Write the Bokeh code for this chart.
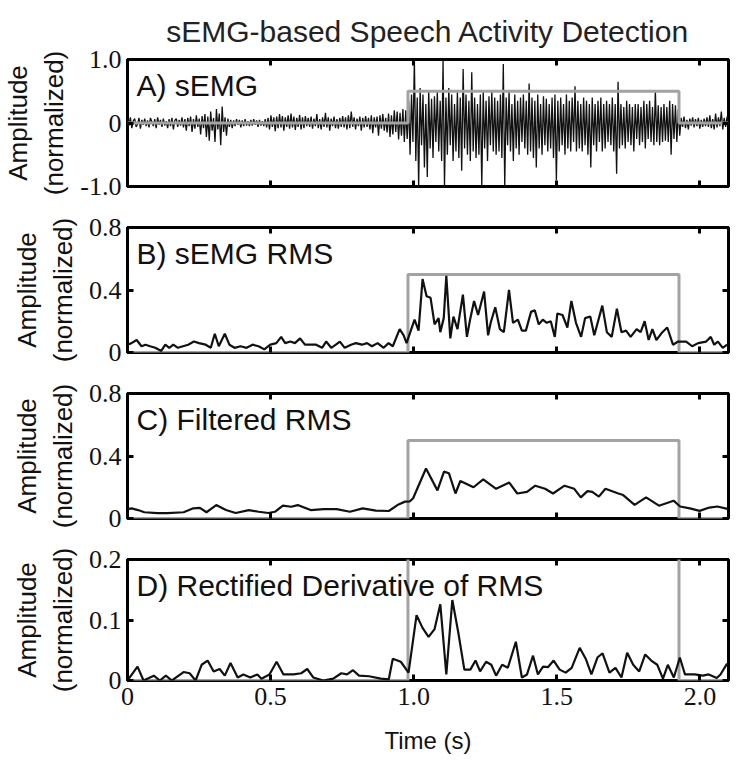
from bokeh.plotting import figure
from bokeh.layouts import column
from bokeh.models import Range1d, LinearAxis, FixedTicker, Label
from bokeh.embed import file_html
from bokeh.resources import INLINE
import numpy as np

TITLE = "sEMG-based Speech Activity Detection"
X_LABEL = "Time (s)"
Y_LABEL = "Amplitude\n(normalized)"
panel_names = ["A) sEMG", "B) sEMG RMS", "C) Filtered RMS", "D) Rectified Derivative of RMS"]

x_ticks = [0, 0.5, 1.0, 1.5, 2.0]
x_tick_labels = ["0", "0.5", "1.0", "1.5", "2.0"]

# speech activity detection window
vad_on = 0.98
vad_off = 1.927
vad_level = 0.5

# A) raw sEMG (uniform samples over 0..2.1 s)
emg_pre = [
    0.06, -0.04, 0.09, -0.08, 0.03, 0.07, -0.06, -0.02, 0.08, -0.09, 0.05, -0.03, 0.07, -0.05,
    0.04, -0.07, 0.08, 0.02, -0.05, 0.06, -0.08, 0.09, -0.03, 0.05, -0.06, 0.07, -0.04, 0.03,
    -0.08, 0.06, -0.05, 0.08, -0.10, 0.04, 0.07, -0.06, 0.05, -0.04, 0.09, -0.07, 0.06, -0.12,
    0.08, -0.05, 0.10, -0.14, 0.06, -0.09, 0.12, -0.06, 0.07, -0.18, 0.11, -0.08, 0.14, -0.22,
    0.10, -0.28, 0.18, -0.12, 0.08, -0.30, 0.22, -0.10, 0.15, -0.35, 0.26, -0.14, 0.09, -0.20,
    0.07, -0.06, 0.05, -0.08, 0.04, -0.05, 0.06, -0.03, 0.05, -0.07, 0.04, -0.05, 0.06, -0.04,
    0.03, -0.05, 0.05, -0.04, 0.06, -0.03, 0.04, -0.06, 0.05, -0.04, 0.03, -0.05, 0.06, -0.07,
    0.08, -0.10, 0.12, -0.06, 0.09, -0.13, 0.10, -0.08, 0.14, -0.07, 0.11, -0.12, 0.09, -0.06,
    0.12, -0.09, 0.15, -0.07, 0.10, -0.11, 0.08, -0.06, 0.13, -0.10, 0.09, -0.08, 0.11, -0.05,
    0.08, -0.06, 0.10, -0.09, 0.07, -0.05, 0.14, -0.08, 0.06, -0.10, 0.09, -0.06, 0.16, -0.07,
    0.09, -0.12, 0.07, -0.05, 0.10, -0.08, 0.06, -0.09, 0.08, -0.06, 0.11, -0.07, 0.09, -0.10,
    0.12, -0.08, 0.18, -0.06, 0.09, -0.10, 0.07, -0.05, 0.10, -0.12, 0.08, -0.07, 0.11, -0.06,
    0.08, -0.10, 0.12, -0.16, 0.09, -0.07, 0.10, -0.20, 0.12, -0.09, 0.14, -0.12, 0.08, -0.15,
    0.15, -0.22, 0.12, -0.18, 0.20, -0.14, 0.18, -0.26, 0.16, -0.20, 0.22, -0.30, 0.20, -0.25,
]
emg_speech = [
    0.35, -0.50, 0.45, -0.30, 1.00, -0.60, 0.40, -1.00, 0.55, -0.35, 0.45, -0.70, 0.30, -0.85, 0.50, -0.40, 0.38, -0.55, 0.42, -0.30,
    0.50, -0.45, 0.35, -0.60, 0.98, -1.00, 0.40, -0.50, 0.55, -0.35, 0.45, -0.60, 0.30, -0.45, 0.50, -0.55, 0.40, -0.75, 0.85, -0.40,
    0.45, -0.50, 0.35, -0.60, 0.80, -0.45, 0.40, -0.55, 0.30, -0.50, 0.45, -1.00, 0.50, -0.40, 0.35, -0.60, 0.42, -0.35, 0.50, -0.45,
    0.40, -0.50, 0.35, -0.45, 0.45, -0.55, 0.93, -1.00, 0.40, -0.35, 0.50, -0.45, 0.30, -0.60, 0.45, -0.40, 0.35, -0.50, 0.40, -0.30,
    0.45, -0.40, 0.35, -0.50, 0.62, -0.45, 0.40, -0.55, 0.35, -0.70, 0.45, -0.40, 0.30, -0.50, 0.42, -0.35, 0.38, -0.45, 0.30, -0.40,
    0.40, -0.55, 0.45, -0.90, 0.35, -0.45, 0.40, -0.35, 0.30, -0.50, 0.45, -0.40, 0.35, -0.45, 0.40, -0.30, 0.58, -0.45, 0.35, -0.40,
    0.30, -0.45, 0.40, -0.35, 0.35, -0.50, 0.30, -0.70, 0.40, -0.35, 0.30, -0.45, 0.35, -0.30, 0.40, -0.45, 0.30, -0.40, 0.35, -0.30,
    0.30, -0.35, 0.40, -0.45, 0.30, -0.80, 0.65, -0.40, 0.30, -0.35, 0.25, -0.40, 0.35, -0.30, 0.30, -0.35, 0.25, -0.45, 0.30, -0.25,
    0.30, -0.35, 0.25, -0.30, 0.35, -0.40, 0.30, -0.25, 0.35, -0.30, 0.25, -0.35, 0.52, -0.30, 0.28, -0.35, 0.25, -0.30, 0.30, -0.28,
    0.25, -0.30, 0.35, -0.50, 0.30, -0.25, 0.28, -0.30, 0.22, -0.20,
]
emg_post = [
    0.08, -0.06, 0.10, -0.08, 0.05, -0.10, 0.07, -0.04, 0.09, -0.07, 0.06, -0.05, 0.08, -0.09, 0.05, -0.06, 0.07,
    -0.05, 0.09, -0.06, 0.12, -0.08, 0.06, -0.10, 0.15, -0.07, 0.09, -0.05, 0.18, -0.10, 0.08, -0.06, 0.10, -0.05,
]

# B) sEMG RMS
rms_t = [0.000, 0.014, 0.032, 0.049, 0.063, 0.079, 0.097, 0.118, 0.132, 0.146,
         0.160, 0.176, 0.194, 0.212, 0.232, 0.250, 0.273, 0.291, 0.305, 0.319,
         0.340, 0.356, 0.374, 0.395, 0.416, 0.437, 0.458, 0.478, 0.499, 0.520,
         0.537, 0.551, 0.569, 0.585, 0.603, 0.620, 0.638, 0.659, 0.680, 0.694,
         0.712, 0.728, 0.742, 0.759, 0.781, 0.798, 0.819, 0.837, 0.854, 0.874,
         0.895, 0.912, 0.927, 0.951, 0.965, 0.975, 1.003, 1.017, 1.031, 1.045,
         1.059, 1.073, 1.087, 1.093, 1.105, 1.114, 1.128, 1.139, 1.153, 1.172,
         1.186, 1.197, 1.211, 1.225, 1.246, 1.260, 1.269, 1.285, 1.301, 1.315,
         1.333, 1.347, 1.364, 1.378, 1.392, 1.410, 1.423, 1.437, 1.451, 1.465,
         1.479, 1.493, 1.502, 1.520, 1.537, 1.551, 1.567, 1.585, 1.599, 1.617,
         1.631, 1.659, 1.675, 1.692, 1.710, 1.726, 1.742, 1.758, 1.779, 1.793,
         1.807, 1.821, 1.834, 1.848, 1.869, 1.886, 1.906, 1.924, 1.952, 1.973,
         1.994, 2.022, 2.038, 2.050, 2.063, 2.080, 2.095]
rms_v = [0.05, 0.06, 0.08, 0.04, 0.05, 0.04, 0.03, 0.01, 0.05, 0.03,
         0.05, 0.03, 0.04, 0.05, 0.07, 0.06, 0.05, 0.03, 0.12, 0.04,
         0.12, 0.05, 0.03, 0.04, 0.03, 0.05, 0.04, 0.02, 0.05, 0.06,
         0.10, 0.06, 0.07, 0.06, 0.09, 0.05, 0.05, 0.05, 0.03, 0.07,
         0.03, 0.05, 0.07, 0.03, 0.05, 0.06, 0.05, 0.06, 0.04, 0.06,
         0.03, 0.06, 0.04, 0.15, 0.11, 0.06, 0.21, 0.14, 0.47, 0.36,
         0.35, 0.18, 0.22, 0.13, 0.22, 0.49, 0.09, 0.23, 0.15, 0.37,
         0.10, 0.21, 0.33, 0.24, 0.39, 0.11, 0.19, 0.29, 0.15, 0.13,
         0.40, 0.19, 0.21, 0.14, 0.14, 0.26, 0.27, 0.18, 0.21, 0.19,
         0.20, 0.10, 0.25, 0.24, 0.16, 0.33, 0.19, 0.10, 0.22, 0.23,
         0.11, 0.30, 0.13, 0.10, 0.28, 0.13, 0.14, 0.10, 0.15, 0.13,
         0.20, 0.08, 0.15, 0.08, 0.13, 0.16, 0.05, 0.07, 0.07, 0.04,
         0.06, 0.07, 0.10, 0.05, 0.07, 0.03, 0.05]

# C) filtered RMS
filt_t = [0.000, 0.014, 0.037, 0.059, 0.105, 0.139, 0.196, 0.230, 0.253, 0.276,
          0.310, 0.344, 0.378, 0.424, 0.458, 0.492, 0.515, 0.543, 0.572, 0.595,
          0.640, 0.686, 0.731, 0.777, 0.822, 0.868, 0.913, 0.947, 0.970, 0.987,
          0.998, 1.043, 1.083, 1.106, 1.123, 1.146, 1.163, 1.209, 1.243, 1.288,
          1.334, 1.362, 1.396, 1.425, 1.459, 1.487, 1.527, 1.561, 1.584, 1.607,
          1.624, 1.647, 1.670, 1.715, 1.732, 1.772, 1.812, 1.857, 1.908, 1.931,
          1.965, 1.999, 2.033, 2.061, 2.100]
filt_v = [0.060, 0.065, 0.054, 0.040, 0.035, 0.035, 0.040, 0.065, 0.068, 0.040,
          0.086, 0.054, 0.035, 0.054, 0.043, 0.035, 0.043, 0.082, 0.075, 0.086,
          0.054, 0.060, 0.060, 0.043, 0.065, 0.050, 0.048, 0.090, 0.108, 0.110,
          0.130, 0.320, 0.180, 0.300, 0.290, 0.160, 0.240, 0.200, 0.250, 0.190,
          0.230, 0.160, 0.170, 0.210, 0.190, 0.160, 0.210, 0.190, 0.135, 0.175,
          0.170, 0.140, 0.190, 0.160, 0.150, 0.087, 0.135, 0.082, 0.114, 0.077,
          0.065, 0.049, 0.070, 0.077, 0.060]

# D) rectified derivative of RMS
der_t = [0.000, 0.035, 0.056, 0.092, 0.113, 0.134, 0.155, 0.196, 0.217, 0.238,
         0.259, 0.280, 0.301, 0.322, 0.340, 0.360, 0.385, 0.405, 0.429, 0.454,
         0.468, 0.496, 0.521, 0.545, 0.580, 0.607, 0.628, 0.649, 0.684, 0.719,
         0.747, 0.767, 0.788, 0.809, 0.844, 0.885, 0.913, 0.927, 0.955, 0.982,
         1.010, 1.031, 1.052, 1.073, 1.093, 1.114, 1.135, 1.156, 1.177, 1.198,
         1.216, 1.232, 1.253, 1.271, 1.288, 1.309, 1.329, 1.357, 1.378, 1.396,
         1.417, 1.434, 1.452, 1.469, 1.489, 1.510, 1.531, 1.552, 1.580, 1.601,
         1.621, 1.642, 1.660, 1.684, 1.705, 1.726, 1.746, 1.767, 1.788, 1.809,
         1.830, 1.851, 1.871, 1.888, 1.909, 1.930, 1.948, 1.982, 2.010, 2.031,
         2.059, 2.072, 2.095]
der_v = [0.000, 0.023, 0.000, 0.008, 0.000, 0.008, 0.000, 0.014, 0.012, 0.000,
         0.026, 0.033, 0.015, 0.019, 0.008, 0.029, 0.005, 0.010, 0.005, 0.010,
         0.003, 0.010, 0.031, 0.010, 0.010, 0.012, 0.019, 0.005, 0.000, 0.003,
         0.012, 0.010, 0.017, 0.008, 0.007, 0.003, 0.002, 0.036, 0.031, 0.013,
         0.108, 0.087, 0.072, 0.085, 0.126, 0.010, 0.133, 0.079, 0.018, 0.018,
         0.033, 0.015, 0.031, 0.026, 0.008, 0.026, 0.021, 0.064, 0.005, 0.010,
         0.041, 0.010, 0.023, 0.022, 0.033, 0.018, 0.013, 0.021, 0.054, 0.036,
         0.010, 0.038, 0.045, 0.013, 0.021, 0.005, 0.046, 0.026, 0.015, 0.043,
         0.033, 0.026, 0.003, 0.026, 0.005, 0.038, 0.010, 0.010, 0.008, 0.010,
         0.004, 0.010, 0.028]

y_ranges = [(-1.0, 1.0), (0.0, 0.8), (0.0, 0.8), (0.0, 0.2)]
y_ticks = [[-1.0, 0.0, 1.0], [0.0, 0.4, 0.8], [0.0, 0.4, 0.8], [0.0, 0.1, 0.2]]
y_tick_labels = [["-1.0", "0", "1.0"], ["0", "0.4", "0.8"], ["0", "0.4", "0.8"], ["0", "0.1", "0.2"]]

FONT = "Liberation Sans"
TICK_FONT = "Liberation Sans Narrow"
BLACK = "#111111"
GRAY = "#a3a3a3"

x_range = Range1d(0, 2.1)

emg = emg_pre + emg_speech + emg_post
emg_t = list(np.linspace(0, 2.1, len(emg)))
box_t = [0.0, vad_on, vad_on, vad_off, vad_off, 2.1]
box_v = [0.0, 0.0, vad_level, vad_level, 0.0, 0.0]

series = [(emg_t, emg), (rms_t, rms_v), (filt_t, filt_v), (der_t, der_v)]
heights = [206, 166, 166, 218]
tops = [57, 21, 21, 21]
bottoms = [20, 20, 20, 72]


def hidden_axis(ticks):
    return LinearAxis(ticker=FixedTicker(ticks=ticks, minor_ticks=[]),
                      major_label_text_font_size="1px", major_label_text_color=None,
                      major_label_standoff=0, axis_line_color=None,
                      major_tick_in=6, major_tick_out=0, major_tick_line_width=3,
                      major_tick_line_color="black", minor_tick_line_color=None)


figs = []
for i in range(4):
    p = figure(width=731, height=heights[i], x_range=x_range,
               y_range=Range1d(*y_ranges[i]), output_backend="svg",
               toolbar_location=None, min_border_left=118, min_border_right=3,
               min_border_top=tops[i], min_border_bottom=bottoms[i],
               background_fill_color="white", border_fill_color="white",
               x_axis_location=None, y_axis_location=None)
    p.grid.visible = False
    p.outline_line_color = "black"
    p.outline_line_width = 3

    xover = {x_ticks[k]: x_tick_labels[k] for k in range(len(x_ticks))}
    yover = {y_ticks[i][k]: y_tick_labels[i][k] for k in range(3)}

    ya = LinearAxis(ticker=FixedTicker(ticks=y_ticks[i], minor_ticks=[]),
                    major_label_overrides=yover, axis_label=Y_LABEL,
                    axis_label_text_font=FONT, axis_label_text_font_size="26px",
                    axis_label_text_font_style="normal", axis_label_text_color=BLACK,
                    axis_label_standoff=8, major_label_text_font=TICK_FONT,
                    major_label_text_font_size="26px", major_label_text_color=BLACK,
                    major_label_standoff=6, axis_line_color=None,
                    major_tick_in=6, major_tick_out=0, major_tick_line_width=3,
                    major_tick_line_color="black", minor_tick_line_color=None)
    p.add_layout(ya, "left")

    if i == 3:
        xa = LinearAxis(ticker=FixedTicker(ticks=x_ticks, minor_ticks=[]),
                        major_label_overrides=xover, axis_label=X_LABEL,
                        axis_label_text_font=FONT, axis_label_text_font_size="24px",
                        axis_label_text_font_style="normal", axis_label_text_color=BLACK,
                        axis_label_standoff=19, major_label_text_font=TICK_FONT,
                        major_label_text_font_size="26px", major_label_text_color=BLACK,
                        major_label_standoff=7, axis_line_color=None,
                        major_tick_in=6, major_tick_out=0, major_tick_line_width=3,
                        major_tick_line_color="black", minor_tick_line_color=None)
        p.add_layout(xa, "below")
    else:
        p.add_layout(hidden_axis(x_ticks), "below")

    p.add_layout(hidden_axis(x_ticks), "above")
    p.add_layout(hidden_axis(y_ticks[i]), "right")

    tx, ty = series[i]
    if i == 0:
        p.line(tx, ty, line_color=BLACK, line_width=1.3)
        p.line(box_t, box_v, line_color=GRAY, line_width=3)
    else:
        p.line(box_t, box_v, line_color=GRAY, line_width=3)
        p.line(tx, ty, line_color=BLACK, line_width=2.2)

    p.add_layout(Label(x=0, y=y_ranges[i][1], x_offset=9, y_offset=-9,
                       text=panel_names[i], text_font=FONT, text_font_size="30px",
                       text_color=BLACK, text_baseline="top", text_align="left"))

    if i == 0:
        p.title.text = TITLE
        p.title.align = "center"
        p.title.text_font = FONT
        p.title.text_font_size = "30px"
        p.title.text_font_style = "normal"
        p.title.text_color = "#222222"
        p.title.standoff = 24
    figs.append(p)

layout = column(*figs, spacing=0)
open("out.html", "w").write(file_html(layout, INLINE))
